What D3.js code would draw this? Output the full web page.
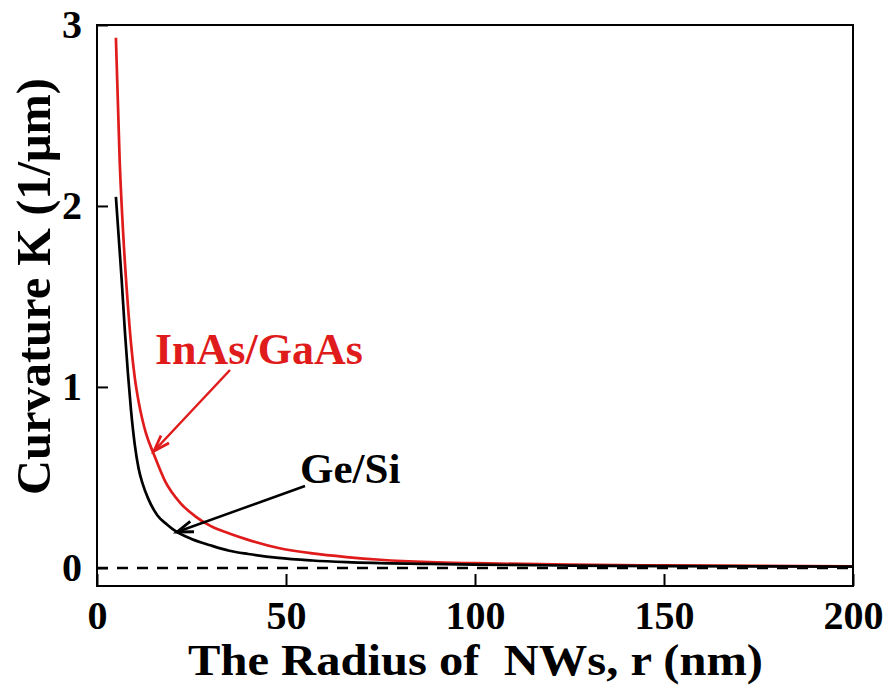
<!DOCTYPE html>
<html>
<head>
<meta charset="utf-8">
<script src="https://cdn.jsdelivr.net/npm/d3@7"></script>
<style>
  html, body { margin: 0; padding: 0; background: #fff; }
  svg { display: block; }
  text { font-family: "Liberation Serif", "Times New Roman", serif; font-weight: bold; }
</style>
</head>
<body>
<svg id="chart" width="891" height="688"></svg>
<script>
// ---- data ----
const xTicks = [0, 50, 100, 150, 200];
const yTicks = [0, 1, 2, 3];

const inasR = [5, 6, 7, 8, 9, 10, 11, 12, 13, 15, 18, 22, 26, 30, 35, 40, 48, 57, 66, 75, 88, 100, 125, 150, 175, 200];
const inasK = [2.93, 2.25, 1.82, 1.5, 1.24, 1.05, 0.92, 0.82, 0.74, 0.63, 0.48, 0.36, 0.285, 0.232, 0.19, 0.155, 0.11, 0.08, 0.06, 0.045, 0.032, 0.026, 0.018, 0.014, 0.011, 0.009];

const gesiR = [5, 6, 6.5, 7.4, 8.2, 9, 10, 11, 12, 13.6, 16, 18.5, 21, 25, 30, 35, 40, 48, 57, 66, 88, 100, 125, 150, 175, 200];
const gesiK = [2.05, 1.75, 1.6, 1.3, 1.07, 0.87, 0.68, 0.55, 0.47, 0.38, 0.29, 0.24, 0.2, 0.16, 0.125, 0.095, 0.077, 0.055, 0.041, 0.032, 0.022, 0.018, 0.013, 0.01, 0.008, 0.007];

const seriesNames = ["InAs/GaAs", "Ge/Si"];
const xTitle = "The Radius of\u00A0\u00A0NWs, r (nm)";
const yTitle = "Curvature K (1/\u03BCm)";

// ---- layout ----
const svg = d3.select("#chart");
const L = 97, R = 853, T = 25, B = 586;
const x = d3.scaleLinear().domain([0, 200]).range([L, R]);
const y = d3.scaleLinear().domain([-0.1, 3]).range([B, T]);

const red = "#e01b1b";

svg.append("defs").append("clipPath").attr("id", "clip")
  .append("rect").attr("x", L).attr("y", T).attr("width", R - L).attr("height", B - T);

// zero dashed line
svg.append("line")
  .attr("x1", L).attr("x2", R).attr("y1", y(0)).attr("y2", y(0))
  .attr("stroke", "#000").attr("stroke-width", 2.5).attr("stroke-dasharray", "11,9");

// curves
const line = d3.line().x(d => x(d[0])).y(d => y(d[1])).curve(d3.curveMonotoneX);
const g = svg.append("g").attr("clip-path", "url(#clip)");
g.append("path").datum(inasR.map((r, i) => [r, inasK[i]]))
  .attr("d", line).attr("fill", "none").attr("stroke", red).attr("stroke-width", 2.7);
g.append("path").datum(gesiR.map((r, i) => [r, gesiK[i]]))
  .attr("d", line).attr("fill", "none").attr("stroke", "#000").attr("stroke-width", 2.7);

// axes
const ax = svg.append("g").attr("transform", `translate(0,${B})`)
  .call(d3.axisBottom(x).tickValues(xTicks).tickSize(-12).tickPadding(15).tickFormat(d3.format("d")));
const ay = svg.append("g").attr("transform", `translate(${L},0)`)
  .call(d3.axisLeft(y).tickValues(yTicks).tickSize(-11).tickPadding(15).tickFormat(d3.format("d")));
[ax, ay].forEach(a => {
  a.select(".domain").remove();
  a.selectAll(".tick line").attr("stroke", "#000").attr("stroke-width", 2);
  a.selectAll(".tick text").attr("fill", "#000").style("font-size", "40px")
    .style("font-family", '"Liberation Serif", "Times New Roman", serif').style("font-weight", "bold");
});

// frame
svg.append("rect").attr("x", L).attr("y", T).attr("width", R - L).attr("height", B - T)
  .attr("fill", "none").attr("stroke", "#000").attr("stroke-width", 2);

// axis titles
svg.append("text").attr("x", 188).attr("y", 675)
  .attr("textLength", 575).attr("lengthAdjust", "spacingAndGlyphs")
  .style("font-size", "45px").attr("fill", "#000").text(xTitle);
svg.append("text")
  .attr("transform", "translate(50,495) rotate(-90)")
  .attr("textLength", 417).attr("lengthAdjust", "spacingAndGlyphs")
  .style("font-size", "48px").attr("fill", "#000").text(yTitle);

// annotations
function arrow(x1, y1, x2, y2, color) {
  const ang = Math.atan2(y2 - y1, x2 - x1);
  const len = 17, spread = 0.33;
  const p1 = [x2 - len * Math.cos(ang - spread), y2 - len * Math.sin(ang - spread)];
  const p2 = [x2 - len * Math.cos(ang + spread), y2 - len * Math.sin(ang + spread)];
  svg.append("line").attr("x1", x1).attr("y1", y1).attr("x2", x2).attr("y2", y2)
    .attr("stroke", color).attr("stroke-width", 2.5);
  svg.append("path")
    .attr("d", `M${p1[0]},${p1[1]} L${x2},${y2} L${p2[0]},${p2[1]}`)
    .attr("fill", "none").attr("stroke", color).attr("stroke-width", 2.8)
    .attr("stroke-linejoin", "miter");
}

svg.append("text").attr("x", 155).attr("y", 364).style("font-size", "44px")
  .attr("fill", red).text(seriesNames[0]);
arrow(230, 370, 154, 451, red);

svg.append("text").attr("x", 300).attr("y", 483).style("font-size", "43px")
  .attr("fill", "#000").text(seriesNames[1]);
arrow(305, 486, 177, 532, "#000");
</script>
</body>
</html>
